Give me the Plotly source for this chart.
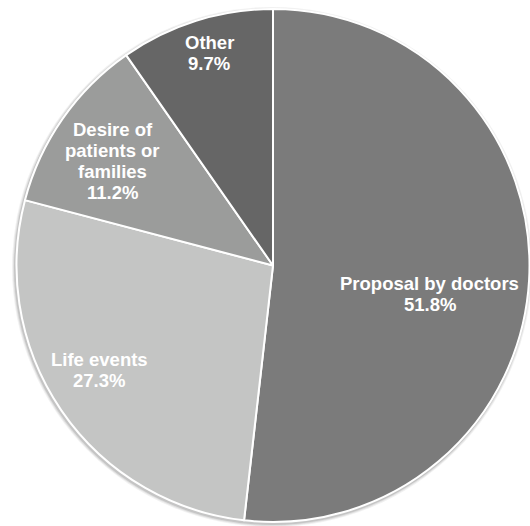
import math
import plotly.graph_objects as go

# Reasons for the decision (share of respondents, %)
categories = ["Proposal by doctors", "Life events", "Desire of<br>patients or<br>families", "Other"]
shares = [51.8, 27.3, 11.2, 9.7]
colors = ["#7b7b7b", "#c4c5c4", "#9b9c9b", "#666666"]

# Label placement inside each slice: radial fraction of the radius and an
# angular nudge (degrees, clockwise) from the slice's mid angle.
label_radius = [0.62, 0.79, 0.745, 0.865]
label_nudge = [7.0, 3.2, -1.8, 0.8]

WIDTH, HEIGHT = 530, 526
MARGIN = dict(l=16, r=0, t=9, b=4)
LINE_GAP = 21  # px between label lines
label_font = dict(family="Liberation Sans, Arial, sans-serif", size=18.5,
                  color="white", weight="bold")

fig = go.Figure(
    go.Pie(
        labels=categories,
        values=shares,
        sort=False,
        direction="clockwise",
        rotation=0,
        marker=dict(colors=colors, line=dict(color="white", width=2)),
        textinfo="none",
        hoverinfo="label+percent",
        showlegend=False,
        domain=dict(x=[0, 1], y=[0, 1]),
    )
)

# Soft drop shadow around the pie
plot_w = WIDTH - MARGIN["l"] - MARGIN["r"]
plot_h = HEIGHT - MARGIN["t"] - MARGIN["b"]
radius_px = min(plot_w, plot_h) / 2
shapes = []
for grow, alpha in [(3.5, 0.10), (2.5, 0.15), (1.5, 0.25)]:
    rx = (radius_px + grow) / plot_w
    ry = (radius_px + grow) / plot_h
    cx = 0.5 - 1.0 / plot_w
    cy = 0.5 - 1.5 / plot_h
    shapes.append(dict(
        type="circle", xref="paper", yref="paper", layer="below",
        x0=cx - rx, x1=cx + rx, y0=cy - ry, y1=cy + ry,
        fillcolor=f"rgba(120,120,120,{alpha})", line=dict(width=0),
    ))

# Labels: one annotation per text line, centred on the slice label point
total = sum(shares)
cum = 0.0
annotations = []
for name, v, rf, nudge in zip(categories, shares, label_radius, label_nudge):
    mid = (cum + v / 2) / total * 360.0 + nudge
    cum += v
    theta = math.radians(mid)
    x = 0.5 + 0.5 * rf * math.sin(theta)
    y = 0.5 + 0.5 * rf * math.cos(theta)
    lines = name.split("<br>") + [f"{v:.1f}%"]
    n = len(lines)
    for i, line in enumerate(lines):
        annotations.append(dict(
            x=x, y=y, xref="paper", yref="paper",
            xanchor="center", yanchor="middle",
            yshift=((n - 1) / 2 - i) * LINE_GAP,
            showarrow=False, text=line, font=label_font,
        ))

fig.update_layout(
    width=WIDTH,
    height=HEIGHT,
    margin=MARGIN,
    paper_bgcolor="white",
    plot_bgcolor="white",
    annotations=annotations,
    shapes=shapes,
)

fig.write_html("out.html")
